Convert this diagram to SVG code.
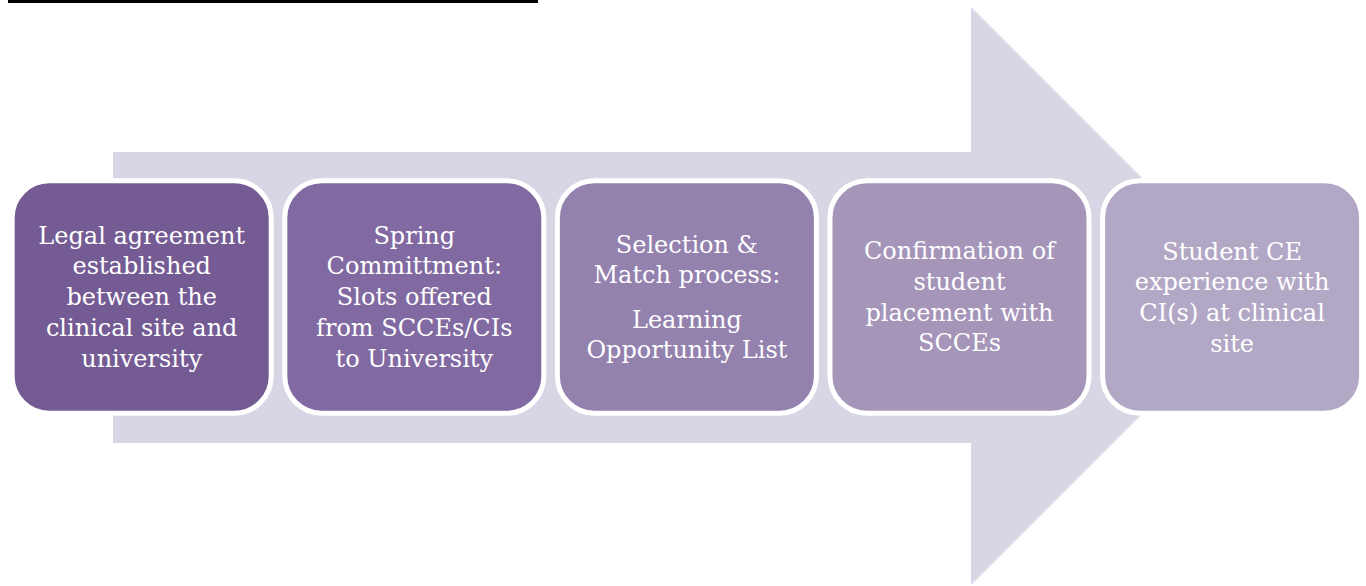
<svg xmlns="http://www.w3.org/2000/svg" width="1366" height="586" viewBox="0 0 1366 586">
<style>
.box{stroke:#ffffff;stroke-width:5}
.t{font-family:"DejaVu Serif","Liberation Serif",serif;font-size:24px;fill:#ffffff;text-anchor:middle}
</style>
<rect x="0" y="0" width="1366" height="586" fill="#ffffff"/>
<rect id="topbar" x="8" y="0" width="530" height="3" fill="#000000"/>
<g id="connectors">
<polygon id="big-arrow" points="113,152 971,152 971,7 1260,296 971,585 971,443 113,443" fill="#d8d5e5"/>
</g>
<g id="node1">
<rect class="box" x="12.2" y="180.8" width="259" height="232.4" rx="37" fill="#745b94"/>
<text class="t" x="141.7" y="243.5">Legal agreement</text>
<text class="t" x="141.7" y="274.3">established</text>
<text class="t" x="141.7" y="305.1">between the</text>
<text class="t" x="141.7" y="335.9">clinical site and</text>
<text class="t" x="141.7" y="366.7">university</text>
</g>
<g id="node2">
<rect class="box" x="284.8" y="180.8" width="259" height="232.4" rx="37" fill="#8169a1"/>
<text class="t" x="414.3" y="243.5">Spring</text>
<text class="t" x="414.3" y="274.3">Committment:</text>
<text class="t" x="414.3" y="305.1">Slots offered</text>
<text class="t" x="414.3" y="335.9">from SCCEs/CIs</text>
<text class="t" x="414.3" y="366.7">to University</text>
</g>
<g id="node3">
<rect class="box" x="557.4" y="180.8" width="259" height="232.4" rx="37" fill="#9381ae"/>
<text class="t" x="686.9" y="253">Selection &amp;</text>
<text class="t" x="686.9" y="283">Match process:</text>
<text class="t" x="686.9" y="328">Learning</text>
<text class="t" x="686.9" y="358">Opportunity List</text>
</g>
<g id="node4">
<rect class="box" x="830" y="180.8" width="259" height="232.4" rx="37" fill="#a495b9"/>
<text class="t" x="959.5" y="259">Confirmation of</text>
<text class="t" x="959.5" y="289.8">student</text>
<text class="t" x="959.5" y="320.6">placement with</text>
<text class="t" x="959.5" y="351.4">SCCEs</text>
</g>
<g id="node5">
<rect class="box" x="1102.6" y="180.8" width="259" height="232.4" rx="37" fill="#b2a8c6"/>
<text class="t" x="1232.1" y="259.5">Student CE</text>
<text class="t" x="1232.1" y="290.3">experience with</text>
<text class="t" x="1232.1" y="321.1">CI(s) at clinical</text>
<text class="t" x="1232.1" y="351.9">site</text>
</g>
</svg>
